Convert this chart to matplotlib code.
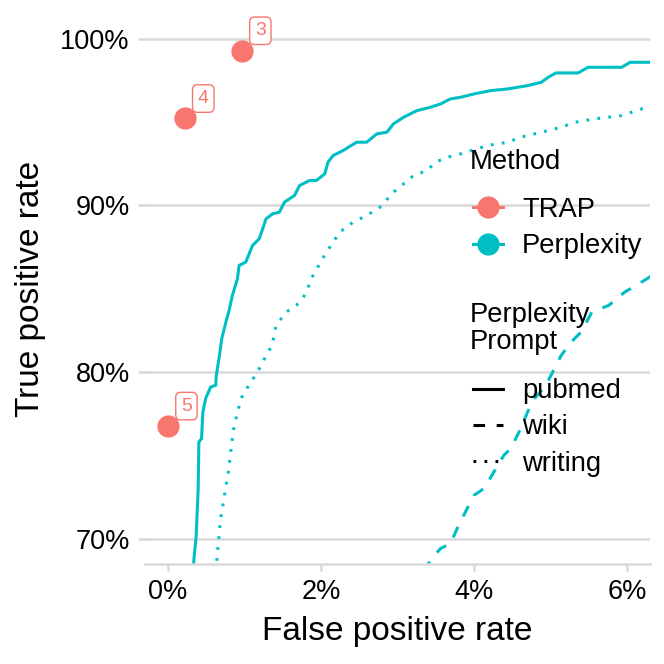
import numpy as np
import matplotlib
matplotlib.use("Agg")
import matplotlib.pyplot as plt
from matplotlib.ticker import PercentFormatter
from matplotlib.lines import Line2D

plt.rcParams['font.family'] = ['Liberation Sans', 'DejaVu Sans']

# ---- data (percent) ----
pubmed_fpr = [0.335, 0.338, 0.368, 0.395, 0.404, 0.439, 0.457, 0.492, 0.558, 0.624, 0.632, 0.667,
              0.703, 0.763, 0.799, 0.842, 0.908, 0.930, 1.018, 1.105, 1.193, 1.282, 1.368, 1.457,
              1.522, 1.654, 1.720, 1.851, 1.939, 2.049, 2.092, 2.158, 2.289, 2.466, 2.597, 2.729,
              2.861, 2.947, 3.079, 3.167, 3.255, 3.430, 3.562, 3.693, 3.825, 4.00, 4.22, 4.44,
              4.70, 4.88, 4.97, 5.07, 5.36, 5.49, 5.93, 6.04, 6.40]
pubmed_tpr = [68.0, 68.7, 70.1, 73.0, 75.8, 76.0, 77.6, 78.4, 79.1, 79.2, 79.8, 80.8,
              82.0, 83.1, 83.7, 84.6, 85.6, 86.4, 86.6, 87.6, 88.0, 89.2, 89.5, 89.6,
              90.2, 90.6, 91.2, 91.5, 91.5, 91.9, 92.6, 93.0, 93.3, 93.8, 93.8, 94.3,
              94.4, 94.9, 95.3, 95.5, 95.7, 95.9, 96.1, 96.4, 96.5, 96.7, 96.9, 97.0,
              97.2, 97.4, 97.7, 97.96, 97.96, 98.3, 98.3, 98.6, 98.6]

writing_fpr = [0.63, 0.645, 0.689, 0.746, 0.789, 0.821, 0.851, 0.908, 0.974, 1.084, 1.171, 1.237,
               1.361, 1.413, 1.545, 1.676, 1.763, 1.851, 1.895, 2.071, 2.246, 2.421, 2.597, 2.772,
               2.947, 3.079, 3.21, 3.387, 3.496, 3.650, 3.825, 4.176, 4.44, 4.61, 4.88, 5.14,
               5.32, 5.58, 5.93, 6.19, 6.40]
writing_tpr = [68.0, 69.1, 71.2, 72.8, 74.0, 75.2, 76.4, 77.6, 78.6, 79.4, 80.0, 80.6,
               81.6, 82.8, 83.6, 84.0, 84.4, 85.3, 85.8, 87.2, 88.4, 89.0, 89.4, 89.9,
               90.8, 91.3, 91.8, 92.1, 92.6, 92.9, 93.1, 93.6, 93.8, 94.1, 94.4, 94.7,
               95.0, 95.2, 95.4, 95.8, 95.9]

wiki_fpr = [3.35, 3.43, 3.562, 3.693, 3.78, 3.91, 4.0, 4.13, 4.26, 4.39, 4.48, 4.61, 4.70, 4.79,
            4.94, 5.05, 5.14, 5.27, 5.40, 5.54, 5.76, 5.97, 6.19, 6.40]
wiki_tpr = [68.0, 68.7, 69.4, 69.7, 70.6, 71.8, 72.6, 73.0, 74.0, 75.0, 75.4, 76.6, 77.6, 78.4,
            79.2, 80.2, 81.0, 81.8, 82.4, 83.6, 84.0, 84.8, 85.4, 86.0]

trap_fpr = [0.966, 0.22, 0.0]
trap_tpr = [99.30, 95.23, 76.76]
trap_labels = ["3", "4", "5"]

x_ticks = [0, 2, 4, 6]
y_ticks = [70, 80, 90, 100]

TRAP_C = "#F8766D"
PERP_C = "#00BFC4"
GRID_C = "#D9D9D9"

W = 664
fig = plt.figure(figsize=(6.64, 6.64), dpi=100)
ax = fig.add_axes([145 / W, 1 - 563.5 / W, 505 / W, 549.5 / W])

pct = lambda a: np.asarray(a) / 100.0
lw = 2.2
DASH = (3.8, 3.8)
DOT = (0.9, 2.7)
ax.plot(pct(pubmed_fpr), pct(pubmed_tpr), color=PERP_C, lw=lw, solid_joinstyle='round')
ax.plot(pct(wiki_fpr), pct(wiki_tpr), color=PERP_C, lw=lw, dashes=DASH, dash_capstyle='butt')
ax.plot(pct(writing_fpr), pct(writing_tpr), color=PERP_C, lw=lw, dashes=DOT, dash_capstyle='butt')

ax.plot(pct(trap_fpr), pct(trap_tpr), linestyle='none', marker='o', ms=16,
        color=TRAP_C, mec='none', zorder=4)
for x, y, lab in zip(pct(trap_fpr), pct(trap_tpr), trap_labels):
    ax.annotate(lab, (x, y), xytext=(13.3, 14.3), textcoords='offset points',
                ha='center', va='center', fontsize=14, color=TRAP_C, zorder=5,
                bbox=dict(boxstyle='round,pad=0.27,rounding_size=0.25', fc='white', ec=TRAP_C, lw=1.0))

ax.set_xlim(-0.003, 0.063)
ax.set_ylim(0.685, 1.015)
ax.set_xticks(pct(x_ticks))
ax.set_yticks(pct(y_ticks))
ax.xaxis.set_major_formatter(PercentFormatter(1.0, decimals=0))
ax.yaxis.set_major_formatter(PercentFormatter(1.0, decimals=0))

for s in ['top', 'right', 'left']:
    ax.spines[s].set_visible(False)
ax.spines['bottom'].set_color(GRID_C)
ax.spines['bottom'].set_linewidth(1.8)
ax.yaxis.grid(True, color=GRID_C, lw=1.8)
ax.xaxis.grid(False)
ax.set_axisbelow(True)
ax.tick_params(axis='both', length=5, width=1.8, color=GRID_C, labelsize=19.5,
               labelcolor='black', pad=6)

ax.set_xlabel("False positive rate", fontsize=24, labelpad=8)
ax.set_ylabel("True positive rate", fontsize=24, labelpad=10)

# legends
fs = 19.7
fig.text(470 / W, 1 - 161.7 / W, "Method", fontsize=fs, ha='left', va='center')
h1 = [Line2D([], [], color=TRAP_C, lw=lw, marker='o', ms=16, mec='none'),
      Line2D([], [], color=PERP_C, lw=lw, marker='o', ms=16, mec='none')]
leg1 = fig.legend(h1, ["TRAP", "Perplexity"], loc='center left',
                  bbox_to_anchor=(473 / W, 1 - 228 / W), bbox_transform=fig.transFigure,
                  frameon=False, fontsize=fs, borderpad=0, borderaxespad=0,
                  handlelength=1.08, handletextpad=0.72, labelspacing=0.38)

fig.text(470 / W, 1 - 328.5 / W, "Perplexity\nPrompt", fontsize=fs, ha='left', va='center',
         linespacing=1.05)
h2 = [Line2D([], [], color='black', lw=lw),
      Line2D([], [], color='black', lw=lw, dashes=DASH, dash_capstyle='butt'),
      Line2D([], [], color='black', lw=lw, dashes=DOT, dash_capstyle='butt')]
leg2 = fig.legend(h2, ["pubmed", "wiki", "writing"], loc='center left',
                  bbox_to_anchor=(473 / W, 1 - 427.5 / W), bbox_transform=fig.transFigure,
                  frameon=False, fontsize=fs, borderpad=0, borderaxespad=0,
                  handlelength=1.08, handletextpad=0.72, labelspacing=0.38)

fig.savefig("out.png", dpi=100)
